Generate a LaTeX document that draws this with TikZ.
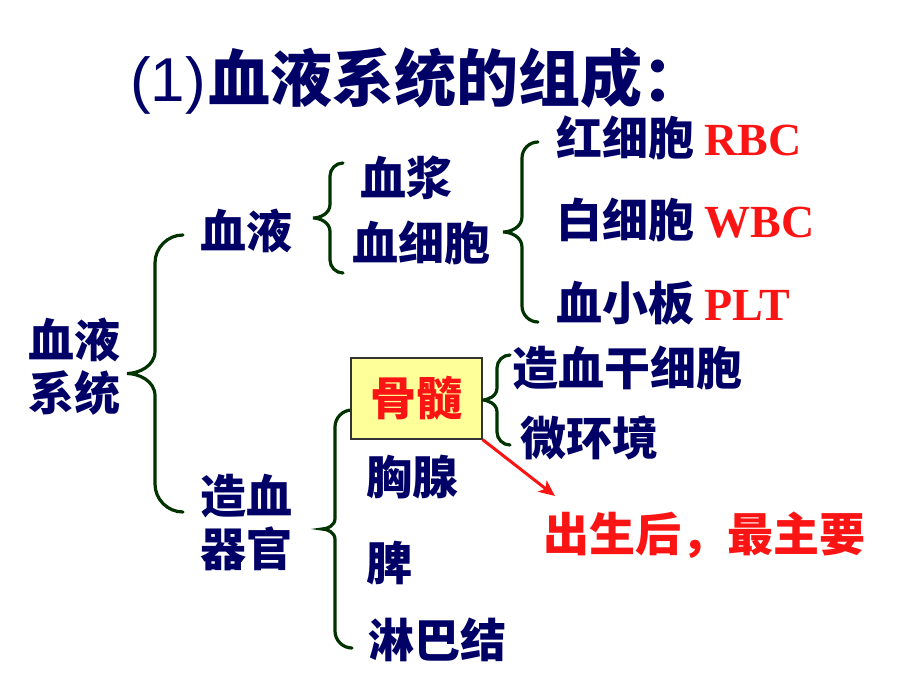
\documentclass[tikz,border=0pt]{standalone}
\usepackage{fontspec}
\usepackage{xcolor}
\setmainfont{Liberation Serif}
\newfontfamily\cjk{Noto Sans CJK SC}
\newfontfamily\arial{Liberation Sans}
\usetikzlibrary{arrows.meta}

\definecolor{navy}{RGB}{0,0,102}
\definecolor{bracegreen}{RGB}{0,51,0}
\definecolor{hotred}{RGB}{250,20,20}
\definecolor{boxyellow}{RGB}{255,255,153}

\newcommand{\abbrtext}[1]{{\rmfamily\bfseries\fontsize{46}{52}\selectfont\color{hotred}#1}}

\tikzset{
  item/.style={font=\cjk\bfseries\fontsize{46}{53}\selectfont, text=navy, inner sep=0pt, anchor=west, align=left},
  brace line/.style={draw=bracegreen, line width=3.2pt, line cap=round},
}

% #1 arm end x, #2 spine x, #3 tip x, #4 top y, #5 bottom y
\newcommand{\curlybrace}[5]{%
  \draw[brace line] (#1,#4)
    .. controls ({#2+0.45*(#1-#2)},#4) and (#2,{#4+0.45*(#1-#2)}) .. (#2,{#4+(#1-#2)})
    -- (#2,{(#4+#5)/2-0.8*(#2-#3)})
    .. controls (#2,{(#4+#5)/2-0.25*(#2-#3)}) and ({#3+0.4*(#2-#3)},{(#4+#5)/2}) .. (#3,{(#4+#5)/2})
    .. controls ({#3+0.4*(#2-#3)},{(#4+#5)/2}) and (#2,{(#4+#5)/2+0.25*(#2-#3)}) .. (#2,{(#4+#5)/2+0.8*(#2-#3)})
    -- (#2,{#5-(#1-#2)})
    .. controls (#2,{#5-0.45*(#1-#2)}) and ({#2+0.45*(#1-#2)},#5) .. (#1,#5);}

\begin{document}
\begin{tikzpicture}[x=1pt,y=-1pt]
    \useasboundingbox (0,0) rectangle (920,690);
    \path (130,81) node [item, font=\cjk\bfseries\fontsize{62}{70}\selectfont] (title) {{\arial\mdseries (1)}\hspace{3pt}血液系统的组成：};

    \path (28,367) node [item] (sys) {血液\\系统};
    \curlybrace{183}{155}{127}{235}{512}

    \path (200,231) node [item] (blood) {血液};
    \curlybrace{343}{330}{313}{163}{273}
    \path (360,178) node [item] (plasma) {血浆};
    \path (352,243) node [item] (cells) {血细胞};
    \curlybrace{538}{522}{503}{142}{322}
    \path (556,138) node [item] (rbc) {红细胞 \abbrtext{RBC}};
    \path (556,220) node [item] (wbc) {白细胞 \abbrtext{WBC}};
    \path (556,303) node [item] (plt) {血小板 \abbrtext{PLT}};

    \path (200,523) node [item] (organ) {造血\\器官};
    \curlybrace{352}{335}{322}{410}{648}
    \path (416.5,398.5) node [draw=black!80, line width=1.2pt, fill=boxyellow, minimum width=131pt, minimum height=81pt, inner sep=0pt, font=\cjk\bfseries\fontsize{46}{53}\selectfont, text=hotred] (marrow) {骨髓};
    \path (366,477) node [item] (thymus) {胸腺};
    \path (366,563) node [item] (spleen) {脾};
    \path (368,640) node [item] (lymph) {淋巴结};

    \curlybrace{510}{497}{482}{355}{445}
    \path (512,368) node [item] (hsc) {造血干细胞};
    \path (520,438) node [item] (micro) {微环境};

    \path (543,535) node [item, text=hotred] (note) {出生后，最主要};
    \coordinate (aim) at (555,496);
    \draw [-{Stealth[length=16pt,width=14pt,inset=4pt]}, hotred, line width=3pt] (marrow.south east) -- (aim);
\end{tikzpicture}
\end{document}
